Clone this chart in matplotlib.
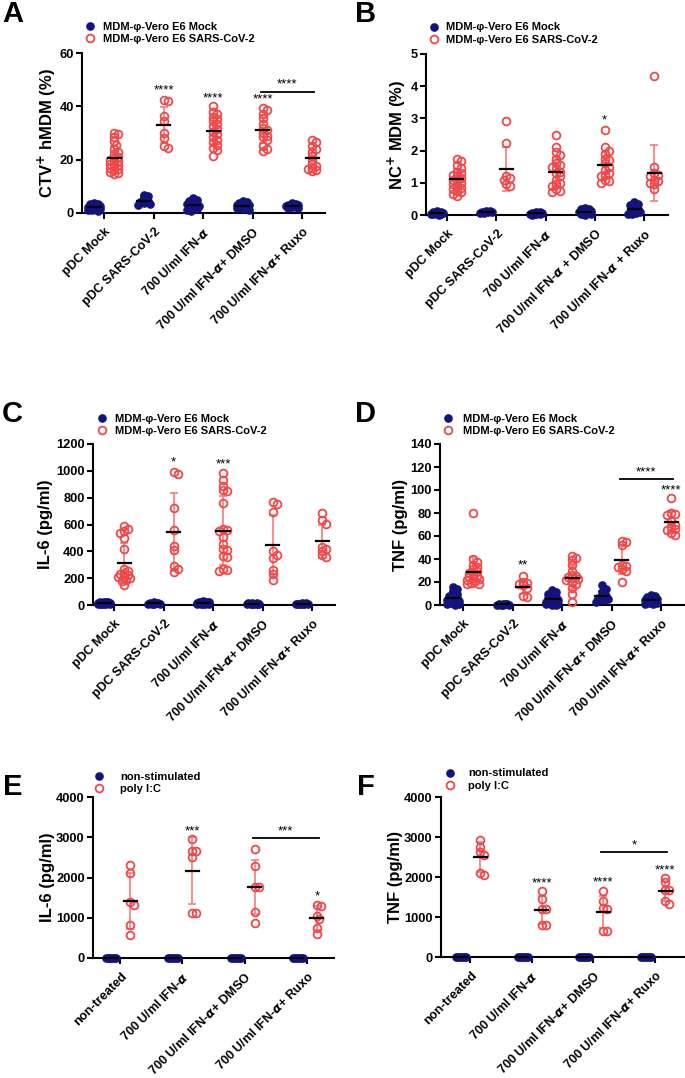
import numpy as np
import matplotlib
matplotlib.use('Agg')
import matplotlib.pyplot as plt
from matplotlib.transforms import ScaledTranslation
from matplotlib.lines import Line2D

plt.rcParams['font.family'] = ['Liberation Sans', 'DejaVu Sans']
plt.rcParams['font.weight'] = 'bold'

NAVY = '#13137d'
RED = '#f04848'
RED_BAR = '#f37c7c'

# ---------------- data ----------------
A_mock = [[3.8, 3.3, 3.0, 2.7, 2.4, 2.1, 1.9, 1.6, 1.3, 1.0, 0.8, 2.2, 2.5, 1.5, 3.5],
          [6.8, 6.2, 5.2, 4.5, 4.0, 3.6, 3.2, 3.0],
          [5.5, 5.0, 4.5, 4.0, 3.5, 3.0, 2.6, 2.2, 1.8, 1.4, 1.0, 0.7, 3.2, 2.8],
          [4.6, 4.2, 3.8, 3.3, 2.9, 2.5, 2.1, 1.8, 1.5, 1.2, 3.0, 2.7],
          [3.6, 3.4, 3.1, 2.9, 2.7, 2.4, 2.1, 1.9, 1.7, 2.6, 3.0]]
A_sars = [[30, 29.5, 28.5, 27, 25.5, 24, 23, 22, 21, 20.5, 20, 19.5, 19, 18.5, 18, 17.5, 17, 16.5, 16, 15.5, 15, 14.5],
          [42.2, 42.0, 36.3, 34.5, 30.0, 28.0, 25.0, 24.5],
          [40.2, 38.0, 37.0, 36.0, 35.3, 34.5, 33.5, 32.5, 31.5, 30.5, 29.5, 28.5, 27.5, 26.5, 25.5, 24.5, 23.5, 21.5],
          [39.5, 38.8, 37.0, 35.5, 33.5, 32.0, 31.0, 30.0, 29.0, 28.5, 27.5, 25.0, 24.0, 23.2],
          [27.5, 26.5, 25.0, 24.0, 23.0, 21.5, 20.0, 18.5, 17.5, 17.0, 16.5, 16.0, 15.8]]
A_sars_mean = [20.5, 33.0, 30.8, 31.2, 20.5]
A_sars_sd = [4.5, 6.6, 5.0, 5.0, 4.0]

B_mock = [[0.12, 0.1, 0.08, 0.07, 0.06, 0.05, 0.04, 0.03, 0.02, 0.02, 0.01],
          [0.13, 0.11, 0.1, 0.09, 0.08, 0.07, 0.06],
          [0.1, 0.08, 0.07, 0.06, 0.05, 0.04, 0.03, 0.02, 0.02, 0.01],
          [0.22, 0.2, 0.18, 0.15, 0.12, 0.1, 0.08, 0.05, 0.03, 0.02, 0.01],
          [0.4, 0.35, 0.3, 0.25, 0.18, 0.12, 0.1, 0.08, 0.06, 0.04, 0.02]]
B_sars = [[1.75, 1.68, 1.55, 1.45, 1.35, 1.3, 1.25, 1.2, 1.15, 1.1, 1.05, 1.0, 0.95, 0.9, 0.85, 0.8, 0.75, 0.7, 0.65, 0.6],
          [2.93, 2.25, 1.22, 1.15, 1.1, 0.95, 0.9],
          [2.5, 2.1, 1.95, 1.85, 1.75, 1.6, 1.55, 1.5, 1.45, 1.35, 1.3, 1.2, 1.1, 1.0, 0.95, 0.9, 0.8, 0.75, 0.7],
          [2.63, 2.1, 2.0, 1.9, 1.75, 1.7, 1.6, 1.5, 1.4, 1.3, 1.25, 1.2, 1.1, 1.05, 1.0],
          [4.33, 1.5, 1.3, 1.25, 1.2, 1.1, 1.05, 1.0, 0.95, 0.8]]
B_sars_mean = [1.12, 1.43, 1.35, 1.55, 1.31]
B_sars_sd = [0.3, 0.69, 0.45, 0.4, 0.86]

C_mock = [[25, 22, 20, 18, 15, 12, 10, 8, 6, 5, 20, 17, 14, 11, 9],
          [20, 17, 15, 12, 10, 8, 6, 5],
          [28, 25, 22, 20, 18, 15, 12, 10, 8, 6, 5, 24, 19, 14, 11],
          [18, 15, 13, 11, 9, 8, 6, 5, 4],
          [16, 13, 11, 9, 8, 6, 5, 4]]
C_sars = [[590, 565, 550, 540, 500, 415, 270, 255, 240, 232, 222, 212, 205, 198, 190, 180, 150],
          [990, 980, 725, 560, 440, 410, 290, 270, 245],
          [985, 935, 890, 860, 850, 760, 570, 560, 550, 510, 455, 420, 410, 365, 355, 265, 258, 252],
          [765, 750, 690, 400, 375, 350, 260, 230, 185],
          [685, 630, 605, 430, 415, 400, 370, 355]]
C_sars_mean = [315, 545, 555, 445, 475]
C_sars_sd = [150, 290, 260, 225, 125]

D_mock = [[16, 14, 12, 10, 8.5, 7.5, 6.5, 5.5, 4.5, 3.5, 2.5, 1.5, 1, 0.5, 0.3],
          [1.0, 0.8, 0.6, 0.5, 0.4, 0.3, 0.2, 0.1],
          [13, 11.5, 10, 8.5, 7, 6, 5, 4, 3, 2, 1.5, 1, 0.5, 0.3, 0.2],
          [17, 14, 11, 8, 7, 6, 5, 4.5, 4, 3],
          [9, 8, 7, 6, 5, 4, 3, 2, 1.5, 1, 0.5]]
D_sars = [[80, 40, 37.5, 35, 33, 31, 29.5, 28, 27, 25.5, 24.5, 23.5, 22.5, 21.5, 20.5, 19.5, 18.5, 18],
          [25, 20, 19, 18.5, 17.5, 15, 8, 7],
          [43, 41, 39, 35, 30, 26.5, 25.5, 24.5, 23.5, 22.5, 21.5, 20, 18, 15, 10, 3],
          [56, 55, 52.5, 35, 34, 33, 31, 30, 20],
          [93, 80, 79, 78, 73, 70, 68, 66, 65, 62.5, 61]]
D_sars_mean = [29.0, 16.0, 23.5, 39.0, 72.5]
D_sars_sd = [13, 6, 10, 12, 9]

E_mock = [[12, 9, 7, 5, 3, 2]] * 4
E_sars = [[2320, 2120, 1390, 1310, 830, 560],
          [2960, 2660, 2650, 2520, 1130, 1110],
          [2700, 2280, 1770, 1760, 1140, 880],
          [1310, 1300, 1050, 960, 750, 590]]
E_sars_mean = [1420, 2170, 1760, 990]
E_sars_sd = [690, 830, 670, 290]

F_mock = [[12, 9, 7, 5, 3, 2]] * 4
F_sars = [[2930, 2750, 2620, 2560, 2110, 2040],
          [1640, 1460, 1210, 1190, 800, 790],
          [1650, 1410, 1220, 1210, 660, 640],
          [1980, 1880, 1680, 1670, 1410, 1330]]
F_sars_mean = [2500, 1180, 1130, 1660]
F_sars_sd = [370, 350, 400, 250]

labels_ACD = ['pDC Mock', 'pDC SARS-CoV-2', '700 U/ml IFN-$\\alpha$',
              '700 U/ml IFN-$\\alpha$+ DMSO', '700 U/ml IFN-$\\alpha$+ Ruxo']
labels_B = ['pDC Mock', 'pDC SARS-CoV-2', '700 U/ml IFN-$\\alpha$',
            '700 U/ml IFN-$\\alpha$ + DMSO', '700 U/ml IFN-$\\alpha$ + Ruxo']
labels_EF = ['non-treated', '700 U/ml IFN-$\\alpha$',
             '700 U/ml IFN-$\\alpha$+ DMSO', '700 U/ml IFN-$\\alpha$+ Ruxo']
legend_vero = ['MDM-\u03c6-Vero E6 Mock', 'MDM-\u03c6-Vero E6 SARS-CoV-2']
legend_pic = ['non-stimulated', 'poly I:C']

# ---------------- layout ----------------
FW, FH = 685, 1078
fig = plt.figure(figsize=(FW / 100, FH / 100), dpi=100)


def swarm(ax, xc, vals, sp, step=2.0, mind=4.0, maxk=3):
    vals = np.asarray(vals, float)
    yp = ax.transData.transform(np.column_stack([np.zeros(len(vals)), vals]))[:, 1]
    order = np.argsort(-vals, kind='stable')
    placed = []
    xs = np.zeros(len(vals))
    cands = [0.0]
    for k in range(1, maxk + 1):
        cands += [k * step, -k * step]
    for i in order:
        best, bestd = 0.0, -1
        for c in cands:
            d = min([np.hypot(c - px, yp[i] - py) for px, py in placed], default=1e9)
            if d >= mind:
                best = c
                break
            if d > bestd:
                bestd, best = d, c
        placed.append((best, yp[i]))
        xs[i] = xc + best / sp
    return xs


def panel(geom, ylim, yticks, ylabel, ylabel_x, mock, sars, smean, ssd, xlabels,
          legend_labels, leg, stars, bracket, letter, letter_xy):
    left, right, y0, y1, tick0, sp = geom
    ax = fig.add_axes([left / FW, 1 - y0 / FH, (right - left) / FW, (y0 - y1) / FH])
    n = len(xlabels)
    ax.set_xlim((left - tick0) / sp, (right - tick0) / sp)
    ax.set_ylim(*ylim)
    for s in ['top', 'right']:
        ax.spines[s].set_visible(False)
    for s in ['left', 'bottom']:
        ax.spines[s].set_linewidth(1.5)
    ax.tick_params(width=1.5, length=4, labelsize=9.3, pad=2)
    ax.set_yticks(yticks)
    ax.set_yticklabels([str(t) for t in yticks], fontweight='bold')
    ax.set_xticks(range(n))
    ax.set_xticklabels(xlabels, rotation=45, ha='right', va='center',
                       rotation_mode='anchor', fontsize=9.1, fontweight='bold')
    ax.tick_params(axis='x', pad=8)
    off = ScaledTranslation(5 / 100, 0, fig.dpi_scale_trans)
    for lab in ax.get_xticklabels():
        lab.set_transform(lab.get_transform() + off)
    ax.set_ylabel(ylabel, fontsize=12, fontweight='bold')
    ax.yaxis.set_label_coords((ylabel_x - left) / (right - left), 0.5)

    mw = 6.5 / sp   # half width of mean line
    for i in range(n):
        xm = i - 10 / sp
        xs_ = i + 10 / sp
        mv = np.asarray(mock[i], float)
        xs = swarm(ax, xm, mv, sp)
        ax.plot(xs, mv, 'o', ms=5.2, color=NAVY, mec=NAVY, clip_on=False, zorder=3)
        mmean, msd = mv.mean(), mv.std(ddof=1)
        ax.errorbar(xm, mmean, yerr=msd, fmt='none', ecolor=NAVY, elinewidth=1.2,
                    capsize=2.8, capthick=1.2, zorder=2, clip_on=False)
        ax.plot([xm - mw, xm + mw], [mmean, mmean], color='black', lw=1.6, zorder=4,
                clip_on=False)
        sv = np.asarray(sars[i], float)
        xs = swarm(ax, xs_, sv, sp)
        ax.errorbar(xs_, smean[i], yerr=ssd[i], fmt='none', ecolor=RED_BAR, elinewidth=1.2,
                    capsize=2.8, capthick=1.2, zorder=2, clip_on=False)
        ax.plot(xs, sv, 'o', ms=5.6, mfc='none', mec=RED, mew=1.3, clip_on=False, zorder=3)
        ax.plot([xs_ - mw, xs_ + mw], [smean[i], smean[i]], color='black', lw=1.6, zorder=4,
                clip_on=False)
    for (g, yv, txt) in stars:
        ax.text(g + 10 / sp, yv, txt, ha='center', va='center', fontsize=9.5,
                fontweight='normal', clip_on=False)
    for (g1, g2, yv, ys, txt) in bracket:
        ax.plot([g1 + 8 / sp, g2 + 12 / sp], [yv, yv], color='black', lw=1.3, clip_on=False)
        ax.text((g1 + g2) / 2 + 10 / sp, ys, txt, ha='center', va='center', fontsize=9.5,
                fontweight='normal', clip_on=False)

    mx, ry, gap = leg
    handles = [Line2D([], [], ls='none', marker='o', ms=5.2, color=NAVY),
               Line2D([], [], ls='none', marker='o', ms=5.6, mfc='none', mec=RED, mew=1.3)]
    hl_px = 11.1
    ax.legend(handles, legend_labels, loc='upper left', frameon=False, fontsize=8,
              handlelength=1.0, handletextpad=(gap - hl_px / 2) / 11.1,
              labelspacing=0.22, borderpad=0, borderaxespad=0,
              bbox_to_anchor=((mx - hl_px / 2) / FW, 1 - (ry - 6.5) / FH),
              bbox_transform=fig.transFigure, prop={'weight': 'bold', 'size': 8})
    fig.text(letter_xy[0] / FW, 1 - letter_xy[1] / FH, letter, fontsize=21,
             fontweight='bold', va='baseline', ha='left')
    return ax


panel((82, 325, 213, 53, 104, 49.5), (0, 60), [0, 20, 40, 60], 'CTV$^{+}$ hMDM (%)', 58,
      A_mock, A_sars, A_sars_mean, A_sars_sd, labels_ACD, legend_vero, (90, 28, 13),
      [(1, 45.9, '****'), (2, 43.0, '****'), (3, 42.6, '****')],
      [(3, 4, 45.4, 48.2, '****')], 'A', (2, 22))

panel((426, 668, 215, 54, 447, 49.25), (0, 5), [0, 1, 2, 3, 4, 5], 'NC$^{+}$ MDM (%)', 408,
      B_mock, B_sars, B_sars_mean, B_sars_sd, labels_B, legend_vero, (434, 29, 12),
      [(3, 2.93, '*')], [], 'B', (355, 22))

panel((93, 335, 605, 444, 114, 49.5), (0, 1200), [0, 200, 400, 600, 800, 1000, 1200],
      'IL-6 (pg/ml)', 53,
      C_mock, C_sars, C_sars_mean, C_sars_sd, labels_ACD, legend_vero, (102, 420, 13),
      [(1, 1060, '*'), (2, 1050, '***')], [], 'C', (2, 422))

panel((440, 684, 605, 444, 463, 49.5), (0, 140), [0, 20, 40, 60, 80, 100, 120, 140],
      'TNF (pg/ml)', 408,
      D_mock, D_sars, D_sars_mean, D_sars_sd, labels_ACD, legend_vero, (448, 420, 15),
      [(1, 34, '**'), (4, 100, '****')], [(3, 4, 109.5, 115, '****')], 'D', (355, 422))

panel((93, 334, 958, 797, 120, 62.3), (0, 4000), [0, 1000, 2000, 3000, 4000],
      'IL-6 (pg/ml)', 55,
      E_mock, E_sars, E_sars_mean, E_sars_sd, labels_EF, legend_pic, (99, 778, 21),
      [(1, 3150, '***'), (3, 1540, '*')], [(2, 3, 2980, 3140, '***')], 'E', (3, 795))

panel((441, 684, 957, 797, 470, 61.7), (0, 4000), [0, 1000, 2000, 3000, 4000],
      'TNF (pg/ml)', 403,
      F_mock, F_sars, F_sars_mean, F_sars_sd, labels_EF, legend_pic, (450, 775, 18),
      [(1, 1850, '****'), (2, 1875, '****'), (3, 2175, '****')],
      [(2, 3, 2625, 2790, '*')], 'F', (357, 795))

fig.savefig('out.png', dpi=100)
